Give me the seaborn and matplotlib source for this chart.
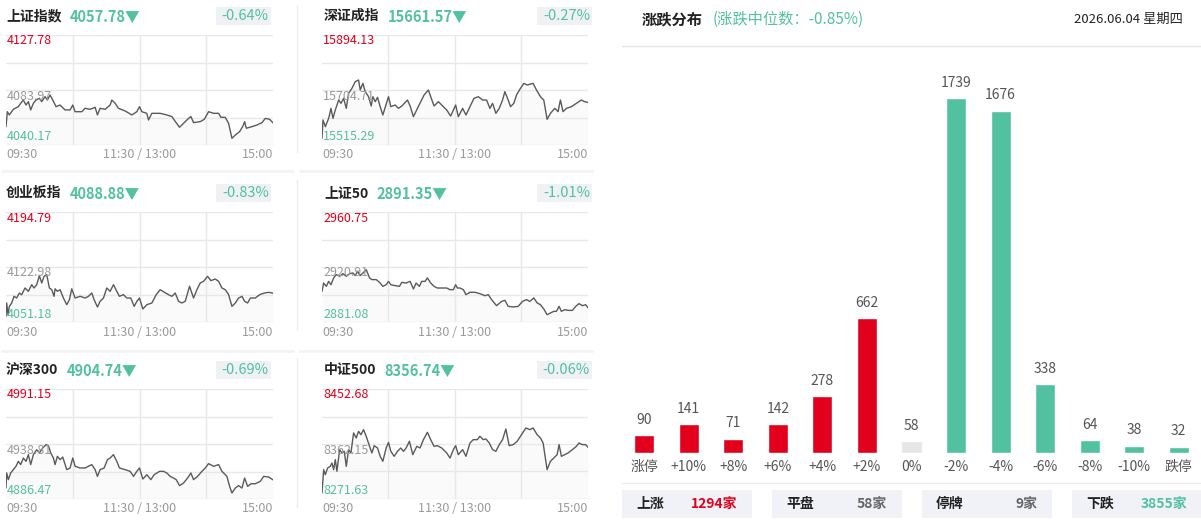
import numpy as np
import seaborn as sns
import matplotlib.pyplot as plt
from matplotlib.lines import Line2D
from matplotlib.patches import Rectangle

# ===============================
# Data
# ===============================

# 上证指数
sh_t = [0, 1.2, 3, 6.6, 11.1, 13.2, 15.6, 18, 20.1, 22.2, 24.6, 27, 30, 32.1, 35.1, 37.2, 39.6, 42, 45, 48.6,
        53.1, 57.6, 60, 62.1, 68.1, 71.1, 75.6, 80.1, 82.2, 84.6, 89.1, 93.6, 95.1, 98.1, 101.1, 107.1, 113.1,
        117.6, 120, 122.1, 126.6, 128.1, 131.1, 138.6, 144.6, 149.1, 151.2, 156, 160.2, 164.1, 166.2, 168.6,
        174.6, 178.2, 182.1, 186.6, 191.1, 193.2, 197.1, 200.1, 203.1, 206.1, 210, 213, 214.5, 216, 221.1,
        225.6, 230.1, 233.1, 237, 240]
sh_p = [4054.8, 4066.7, 4064.1, 4068.6, 4070.7, 4073.4, 4076.0, 4072.0, 4074.7, 4068.1, 4073.4, 4076.0, 4077.4,
        4074.7, 4078.7, 4076.0, 4080.0, 4076.0, 4070.7, 4072.0, 4068.1, 4068.1, 4072.0, 4066.7, 4066.7, 4069.4,
        4068.6, 4070.2, 4064.1, 4069.4, 4068.6, 4072.0, 4076.0, 4073.4, 4069.4, 4067.3, 4064.1, 4066.7, 4070.7,
        4066.7, 4065.4, 4060.1, 4065.4, 4065.4, 4064.1, 4062.8, 4060.1, 4054.3, 4058.0, 4061.4, 4062.8, 4058.0,
        4058.8, 4060.6, 4066.7, 4065.4, 4065.4, 4062.2, 4062.2, 4057.4, 4045.5, 4048.1, 4050.8, 4055.3, 4058.8,
        4053.5, 4054.8, 4056.1, 4058.0, 4061.4, 4060.6, 4057.8]

# 深证成指
sz_t = [0, 0.9, 3, 6, 8.1, 9.9, 12, 15, 17.1, 19.5, 21.9, 24, 27, 30, 33, 34.5, 36.9, 39, 42, 44.4,
        45.9, 48, 50.1, 52.5, 54.9, 60, 62.1, 66, 69, 72, 77.1, 79.5, 82.5, 86.1, 89.1, 92.1, 96, 98.1, 101.1, 105,
        108.9, 112.5, 116.1, 120.6, 123, 126.9, 129.9, 133.5, 137.1, 141, 144.9, 148.5, 151.5, 153.9, 156.9,
        159.9, 162.9, 165, 168, 170.1, 173.1, 175.5, 178.5, 182.1, 185.1, 190.5, 193.5, 197.1, 200.1, 203.1,
        206.1, 210, 213, 215.1, 217.5, 220.5, 225, 229.5, 234, 237, 240]
sz_p = [15538.2, 15601.4, 15578.4, 15607.1, 15641.5, 15607.1, 15635.8, 15670.2, 15658.8, 15676.0,
        15641.5, 15693.2, 15710.4, 15733.4, 15739.1, 15704.7, 15727.6, 15698.9, 15681.7, 15649.6,
        15681.7, 15664.5, 15679.4, 15647.3, 15618.6, 15681.7, 15647.3, 15653.0, 15641.5, 15649.6,
        15670.2, 15649.6, 15612.8, 15641.5, 15664.5, 15687.5, 15704.7, 15681.7, 15649.6, 15664.5,
        15649.6, 15635.8, 15615.1, 15653.0, 15612.8, 15641.5, 15618.6, 15647.3, 15676.0, 15681.7,
        15670.2, 15670.2, 15641.5, 15658.8, 15624.3, 15641.5, 15670.2, 15698.9, 15670.2, 15647.3,
        15658.8, 15687.5, 15707.0, 15727.6, 15721.9, 15727.6, 15704.7, 15681.7, 15670.2, 15603.7,
        15624.3, 15641.5, 15630.1, 15670.2, 15630.1, 15641.5, 15647.3, 15658.8, 15670.2, 15664.5,
        15661.6]

# 创业板指
cy_t = [0, 0.6, 1.8, 3, 5.1, 7.2, 9.6, 12, 14.1, 17.1, 20.1, 23.1, 25.2, 27.6, 30, 32.1, 34.2, 36.6, 39, 41.1,
        43.2, 44.1, 46.2, 48.6, 51.6, 54.6, 57, 59.1, 62.1, 66.6, 71.1, 74.1, 77.1, 79.2, 82.2, 84.6, 87.6, 90.6,
        93.6, 96.6, 99.6, 102, 105.6, 108.6, 112.2, 115.2, 117.6, 120, 123, 126.6, 131.1, 135, 138.6, 142.2,
        146.1, 149.1, 152.1, 155.1, 158.1, 161.1, 165, 168.6, 171.6, 174.6, 177.6, 181.2, 184.2, 188.1, 191.1,
        194.1, 197.1, 200.1, 203.1, 206.1, 209.1, 212.1, 214.5, 217.2, 219.6, 224.1, 228, 232.2, 236.1, 240]
cy_p = [4058.6, 4076.0, 4060.8, 4071.6, 4076.0, 4084.7, 4082.5, 4089.0, 4086.8, 4095.6,
        4091.2, 4099.9, 4095.6, 4099.9, 4111.7, 4102.1, 4110.8, 4113.0, 4095.6, 4093.4,
        4084.7, 4094.5, 4091.2, 4093.4, 4082.5, 4073.8, 4080.3, 4094.5, 4082.5, 4084.7,
        4082.5, 4084.7, 4089.0, 4080.3, 4070.8, 4078.2, 4082.5, 4095.6, 4091.2, 4099.9,
        4091.2, 4084.7, 4086.9, 4082.5, 4082.5, 4071.6, 4078.2, 4082.5, 4068.2, 4073.8,
        4076.0, 4086.9, 4093.4, 4090.1, 4086.9, 4084.7, 4089.0, 4078.2, 4076.0, 4078.2,
        4097.8, 4082.5, 4093.4, 4102.1, 4104.3, 4110.8, 4105.2, 4107.3, 4104.3, 4095.6,
        4093.4, 4086.9, 4071.6, 4076.0, 4082.5, 4084.7, 4078.2, 4076.0, 4082.5, 4082.5,
        4086.9, 4089.0, 4089.9, 4088.9]

# 上证50
sz50_t = [0, 1.5, 3.9, 6, 8.1, 10.5, 12.9, 15.9, 18.9, 21.9, 24.9, 27.9, 30, 32.1, 34.5, 37.5, 39.9, 42.9, 45,
          48.9, 51.9, 54.9, 57.9, 60, 62.1, 66, 69.9, 72, 75.9, 79.5, 82.5, 84.9, 87.9, 90, 93, 95.1, 98.1,
          101.1, 104.1, 108, 112.5, 115.5, 118.5, 120.6, 122.1, 124.5, 127.5, 129.9, 133.5, 138, 142.5, 147,
          150, 153, 157.5, 162, 165, 168, 172.5, 177, 180.9, 184.5, 187.5, 191.1, 194.1, 197.1, 200.1, 203.1,
          206.1, 209.1, 211.5, 213.9, 216, 219, 222, 225.9, 228.9, 231.9, 234.9, 237.9, 240]
sz50_p = [2903.3, 2909.3, 2906.9, 2910.5, 2908.1, 2913.0, 2915.4, 2914.2, 2916.1, 2914.2,
          2916.1, 2916.6, 2914.7, 2917.8, 2914.7, 2917.0, 2919.0, 2913.0, 2911.8, 2911.8,
          2909.8, 2906.9, 2908.1, 2910.5, 2908.1, 2907.4, 2906.9, 2909.8, 2909.3, 2910.5,
          2905.0, 2909.3, 2906.9, 2910.5, 2910.5, 2913.0, 2909.3, 2906.9, 2905.7, 2905.7,
          2905.7, 2904.5, 2904.5, 2908.1, 2905.7, 2905.7, 2904.5, 2900.9, 2902.6, 2902.6,
          2901.6, 2900.1, 2900.9, 2897.3, 2892.9, 2896.0, 2896.8, 2892.4, 2892.0, 2892.4,
          2896.0, 2897.3, 2896.0, 2898.5, 2894.9, 2893.6, 2890.5, 2886.4, 2887.6, 2888.8,
          2888.8, 2892.4, 2888.8, 2890.0, 2889.5, 2889.5, 2892.4, 2894.4, 2892.9, 2893.6,
          2891.4]

# 沪深300
hs300_t = [0, 0.6, 2.1, 4.2, 6.6, 9, 11.1, 13.2, 15.6, 18, 20.1, 22.2, 24.6, 27.6, 30, 33, 36, 38.1, 40.2, 42.6,
           44.1, 46.2, 48.6, 51, 54.6, 57.6, 60, 62.1, 66.6, 71.1, 74.1, 77.1, 80.1, 82.2, 84.6, 88.2, 91.2,
           93.6, 96.6, 99.6, 102, 107.1, 111.6, 114.6, 117.6, 120, 123, 126.6, 130.2, 133.2, 138, 141.6, 144.6,
           147.6, 150.6, 153, 156, 159.6, 163.2, 166.2, 168.6, 172.2, 176.1, 179.1, 182.1, 186.6, 191.1, 194.1,
           198.6, 201, 203.1, 206.1, 209.1, 212.1, 214.5, 217.2, 220.2, 224.1, 228.6, 231.6, 236.1, 240]
hs300_p = [4896.9, 4911.2, 4904.9, 4911.2, 4914.4, 4917.6, 4922.3, 4919.2, 4925.5, 4922.3,
           4928.7, 4919.2, 4928.7, 4933.4, 4930.3, 4935.0, 4938.2, 4937.2, 4930.3, 4925.5,
           4919.2, 4927.1, 4923.9, 4926.4, 4914.4, 4916.0, 4925.5, 4917.6, 4916.0, 4916.0,
           4917.6, 4919.2, 4914.4, 4908.0, 4914.4, 4916.0, 4923.9, 4925.5, 4928.7, 4922.3,
           4916.0, 4914.4, 4912.8, 4908.0, 4912.8, 4916.0, 4905.5, 4909.6, 4904.9, 4909.6,
           4912.8, 4912.8, 4911.2, 4908.0, 4906.4, 4904.9, 4899.2, 4901.7, 4906.4, 4911.2,
           4904.9, 4908.0, 4912.8, 4916.0, 4920.1, 4917.6, 4919.2, 4912.8, 4908.0, 4898.5,
           4892.2, 4896.9, 4899.2, 4896.9, 4906.4, 4898.5, 4901.0, 4901.0, 4903.3, 4908.0,
           4907.4, 4904.7]

# 中证500
zz500_t = [0, 1.5, 3, 5.1, 7.5, 9, 10.5, 12, 13.5, 15.9, 18, 20.1, 21.9, 24, 26.1, 28.5, 30.9, 33, 35.1, 37.5,
           39.9, 42.9, 45, 47.1, 50.1, 52.5, 54.9, 57.9, 60, 62.1, 65.1, 68.1, 71.1, 73.5, 75.9, 78.9, 81.9,
           85.5, 88.5, 91.5, 95.1, 98.1, 101.1, 104.1, 108, 112.5, 115.5, 118.5, 120.6, 123, 126.9, 129.9,
           133.5, 136.5, 140.1, 142.5, 145.5, 147.9, 150.9, 153.9, 156.9, 159.9, 162.9, 165.9, 168.9, 172.5,
           176.1, 180, 183.9, 187.5, 190.5, 194.1, 197.1, 199.5, 203.1, 206.1, 209.1, 212.1, 213.9, 216,
           219, 222, 225.9, 229.5, 231.9, 234.9, 237.9, 240]
zz500_p = [8281.5, 8319.9, 8311.7, 8322.7, 8325.4, 8330.9, 8319.9, 8336.4, 8317.2, 8352.9,
           8347.4, 8350.1, 8325.4, 8352.9, 8347.4, 8380.3, 8372.1, 8383.0, 8377.5, 8385.8,
           8374.8, 8358.3, 8347.4, 8359.4, 8355.6, 8341.9, 8333.7, 8355.6, 8364.9, 8350.1,
           8341.9, 8350.1, 8355.6, 8350.1, 8355.6, 8366.6, 8344.6, 8358.3, 8355.6, 8369.3,
           8381.4, 8369.3, 8358.3, 8359.4, 8355.6, 8347.4, 8339.1, 8352.9, 8359.4, 8344.6,
           8352.9, 8341.9, 8363.8, 8369.3, 8369.3, 8374.8, 8369.3, 8370.4, 8363.8, 8352.9,
           8350.1, 8361.1, 8369.3, 8386.9, 8359.4, 8361.1, 8366.6, 8377.5, 8388.5, 8385.8,
           8388.5, 8377.5, 8372.1, 8363.8, 8319.9, 8333.7, 8339.1, 8344.6, 8361.1, 8341.9,
           8344.6, 8347.4, 8352.9, 8358.3, 8363.8, 8361.1, 8361.1, 8356.7]

index_names = ["上证指数", "深证成指", "创业板指", "上证50", "沪深300", "中证500"]
index_close = ["4057.78", "15661.57", "4088.88", "2891.35", "4904.74", "8356.74"]
index_pct = ["-0.64%", "-0.27%", "-0.83%", "-1.01%", "-0.69%", "-0.06%"]
index_high = [4127.78, 15894.13, 4194.79, 2960.75, 4991.15, 8452.68]
index_prev = [4083.97, 15704.71, 4122.98, 2920.91, 4938.81, 8362.15]
index_low = [4040.17, 15515.29, 4051.18, 2881.08, 4886.47, 8271.63]
series_t = [sh_t, sz_t, cy_t, sz50_t, hs300_t, zz500_t]
series_p = [sh_p, sz_p, cy_p, sz50_p, hs300_p, zz500_p]
time_labels = ["09:30", "11:30 / 13:00", "15:00"]

# 涨跌分布
dist_labels = ["涨停", "+10%", "+8%", "+6%", "+4%", "+2%", "0%", "-2%", "-4%", "-6%", "-8%", "-10%", "跌停"]
dist_counts = [90, 141, 71, 142, 278, 662, 58, 1739, 1676, 338, 64, 38, 32]
median_text = "(涨跌中位数：-0.85%)"
date_text = "2026.06.04 星期四"
summary_labels = ["上涨", "平盘", "停牌", "下跌"]
summary_values = ["1294家", "58家", "9家", "3855家"]

# ===============================
# Style
# ===============================

RED = "#e2001d"
GREEN = "#52c1a0"
GRAY_BAR = "#e6e6e6"
TXT = "#222222"

sns.set_theme(style="white")
plt.rcParams['font.family'] = ['Noto Sans CJK SC', 'DejaVu Sans']

W, H = 1201, 520
fig = plt.figure(figsize=(W / 100, H / 100), dpi=100)
fig.patch.set_facecolor("white")
renderer = fig.canvas.get_renderer()


def px_axes(x0, y0, x1, y1):
    return fig.add_axes([x0 / W, 1 - y1 / H, (x1 - x0) / W, (y1 - y0) / H])


def ftext(x, y, s, **kw):
    return fig.text(x / W, 1 - y / H, s, **kw)


def fline(x0, y0, x1, y1, color, lw):
    fig.add_artist(Line2D([x0 / W, x1 / W], [1 - y0 / H, 1 - y1 / H],
                          transform=fig.transFigure, color=color, lw=lw))


def frect(x0, y0, x1, y1, color):
    fig.add_artist(Rectangle((x0 / W, 1 - y1 / H), (x1 - x0) / W, (y1 - y0) / H,
                             transform=fig.transFigure, facecolor=color, edgecolor="none", zorder=0))


# ===============================
# Index panels
# ===============================

col_x = [(6, 273), (322, 588)]
title_x = [6, 324]
badge_x = [(216, 271), (537, 592)]
row_top = [35, 212, 389]

for i in range(6):
    row, col = i // 2, i % 2
    x0, x1 = col_x[col]
    top = row_top[row]
    bot = top + 110
    ty = top - 19

    ax = px_axes(x0, top, x1, bot)
    lo, hi = index_low[i], index_high[i]
    for v in np.linspace(lo, hi, 5):
        ax.axhline(v, color="#e8e8e8", lw=1, zorder=1)
    for v in (60, 120, 180):
        ax.axvline(v, color="#e8e8e8", lw=1, zorder=1)
    ax.fill_between(series_t[i], series_p[i], lo, color="#fafafa", lw=0, zorder=0.5)
    sns.lineplot(x=series_t[i], y=series_p[i], ax=ax, color="#5a5a5a", linewidth=1, zorder=3)
    ax.set_xlim(0, 240)
    ax.set_ylim(lo, hi)
    ax.axis("off")

    # title + close price
    t = ftext(title_x[col], ty, index_names[i], fontsize=10, fontweight="bold", color=TXT, va="center")
    bb = t.get_window_extent(renderer)
    ftext(bb.x1 + 8, ty, index_close[i] + "▼", fontsize=10.5, fontweight="bold", color=GREEN, va="center")

    # percent badge
    bx0, bx1 = badge_x[col]
    frect(bx0, ty - 9, bx1, ty + 9, "#eff1f4")
    ftext(bx1 - 2, ty, index_pct[i], fontsize=10.5, color=GREEN, ha="right", va="center")

    # level labels
    ftext(x0 + 1, top + 6, f"{index_high[i]:.2f}", fontsize=9, color=RED, va="center")
    ftext(x0 + 1, top + 61, f"{index_prev[i]:.2f}", fontsize=9, color="#9a9a9a", va="center")
    ftext(x0 + 1, bot - 8, f"{index_low[i]:.2f}", fontsize=9, color=GREEN, va="center")

    # time labels
    ftext(x0, bot + 10, time_labels[0], fontsize=9, color="#9a9a9a", va="center", ha="left")
    ftext((x0 + x1) / 2, bot + 10, time_labels[1], fontsize=9, color="#9a9a9a", va="center", ha="center")
    ftext(x1, bot + 10, time_labels[2], fontsize=9, color="#9a9a9a", va="center", ha="right")

# separators
for (y0, y1) in [(5, 152), (180, 330), (358, 507)]:
    fline(297, y0, 297, y1, "#eeeeee", 1)
for y in (171, 351):
    fline(2, y, 293, y, "#f3f3f3", 2)
    fline(300, y, 592, y, "#f3f3f3", 2)

# ===============================
# 涨跌分布
# ===============================

h = ftext(642, 19, "涨跌分布", fontsize=11, fontweight="bold", color=TXT, va="center")
bb = h.get_window_extent(renderer)
ftext(bb.x1 + 10, 19, median_text, fontsize=11, color=GREEN, va="center")
ftext(1183, 19, date_text, fontsize=9.5, color=TXT, va="center", ha="right")
fline(622, 46, 1201, 46, "#e6e6e6", 1)

bar_colors = [RED] * 6 + [GRAY_BAR] + [GREEN] * 6
axb = px_axes(622, 65, 1201, 453.3)
sns.barplot(x=dist_labels, y=dist_counts, hue=dist_labels, palette=bar_colors,
            legend=False, width=0.45, ax=axb, saturation=1)
for c in axb.containers:
    axb.bar_label(c, padding=6, fontsize=10, color="#555555")
axb.set_xlim(-0.5, 12.5)
axb.set_ylim(0, 1900)
axb.set_yticks([])
axb.set_xlabel("")
axb.set_ylabel("")
axb.tick_params(axis="x", length=0, pad=5, labelsize=10, labelcolor="#555555")
sns.despine(ax=axb, left=True, bottom=True)
axb.set_facecolor("none")

# summary boxes
fline(622, 483, 1201, 483, "#ececec", 1)
box_x = [622, 772, 922, 1072]
val_colors = [RED, "#666666", "#666666", GREEN]
for bx, lab, val, vc in zip(box_x, summary_labels, summary_values, val_colors):
    frect(bx, 490, bx + 130, 518, "#f1f2f7")
    ftext(bx + 14, 504, lab, fontsize=10, fontweight="bold", color=TXT, va="center")
    ftext(bx + 115, 504, val, fontsize=10, fontweight="bold", color=vc, va="center", ha="right")

fig.savefig("out.png", dpi=100)
